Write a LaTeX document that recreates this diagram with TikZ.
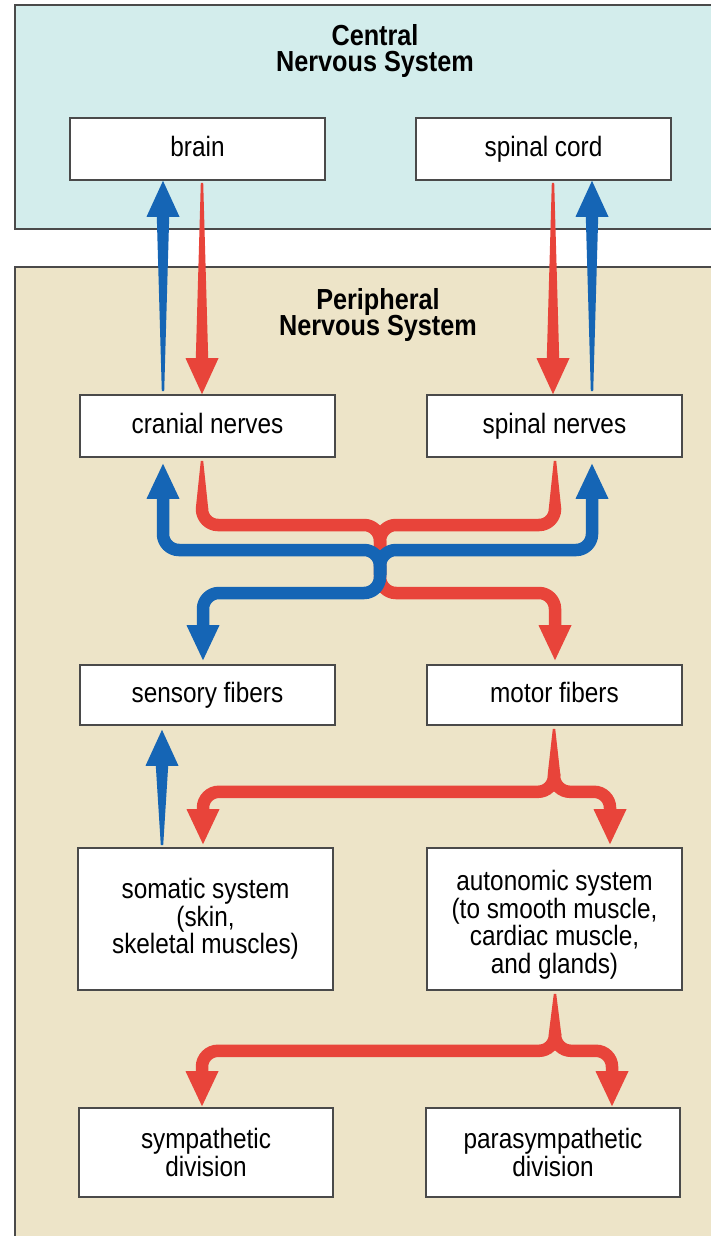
\documentclass[tikz,border=0pt]{standalone}
\usepackage{fontspec}
\setmainfont{Liberation Sans}[FakeStretch=0.87]
\usetikzlibrary{calc}
\definecolor{cnsbg}{HTML}{D3EDEC}
\definecolor{pnsbg}{HTML}{EDE4C8}
\definecolor{nred}{HTML}{E8443A}
\definecolor{nblue}{HTML}{1565B5}
\definecolor{edgec}{HTML}{4A4A4A}
% tapered straight arrow: colour, start, tip, yshift of head base from tip
\newcommand\taperarrow[4]{\fill[#1] ([xshift=-1.2pt]#2) -- ([xshift=1.2pt]#2) -- ([xshift=6.2pt,yshift=#4]#3) -- ([xshift=16.5pt,yshift=#4]#3) -- (#3) -- ([xshift=-16.5pt,yshift=#4]#3) -- ([xshift=-6.2pt,yshift=#4]#3) -- cycle;}
% tapered start of a thick stroke
\newcommand\taperline[3]{\fill[#1] ([xshift=-1.2pt]#2) -- ([xshift=1.2pt]#2) -- ([xshift=6.25pt]#3) -- ([xshift=-6.25pt]#3) -- cycle;}
% arrow head: colour, tip, yshift of base
\newcommand\headat[3]{\fill[#1] (#2) -- ([xshift=16.5pt,yshift=#3]#2) -- ([xshift=-16.5pt,yshift=#3]#2) -- cycle;}
\begin{document}
\begin{tikzpicture}[x=1pt,y=-1pt,
  panel/.style={draw=edgec,line width=1.6pt},
  nbox/.style={draw=edgec,line width=1.6pt,fill=white,minimum width=255pt,inner sep=0pt,align=center,font=\fontsize{28}{27.5}\selectfont},
  onebox/.style={nbox,text height=20pt,text depth=6pt},
  titletext/.style={align=center,inner sep=0pt,font=\bfseries\fontsize{29}{26.5}\selectfont},
  trunk/.style={line width=12.5pt,rounded corners=16pt},
]
\useasboundingbox (0,0) rectangle (711,1236);
\clip (0,0) rectangle (711,1236);
\fill[white] (0,0) rectangle (711,1236);
% panels
\fill[cnsbg] (15,5) rectangle (720,229);
\draw[panel] (720,5) -- (15,5) -- (15,229) -- (720,229);
\fill[pnsbg] (15,267) rectangle (720,1245);
\draw[panel] (720,267) -- (15,267) -- (15,1245);
\node[titletext] (cnstitle) at (375,51) {Central\\Nervous System};
\node[titletext] (pnstitle) at (378,315) {Peripheral\\Nervous System};
% boxes
\node[onebox,minimum height=62pt] (brain) at (197.5,149) {brain};
\node[onebox,minimum height=62pt] (spinalcord) at (543.5,149) {spinal cord};
\node[onebox,minimum height=62pt] (cranial) at (207.5,426) {cranial nerves};
\node[onebox,minimum height=62pt] (spinalnerves) at (554.5,426) {spinal nerves};
\node[onebox,minimum height=60pt] (sensory) at (207.5,695) {sensory fibers};
\node[onebox,minimum height=60pt] (motor) at (554.5,695) {motor fibers};
\node[nbox,minimum height=142pt] (somatic) at (205.5,919) {somatic system\\(skin,\\skeletal muscles)};
\node[nbox,minimum height=142pt] (autonomic) at (554.5,919) {\rule{0pt}{32pt}autonomic system\\(to smooth muscle,\\cardiac muscle,\\and glands)};
\node[nbox,minimum height=89pt,minimum width=254pt] (sympathetic) at (206,1152.5) {sympathetic\\division};
\node[nbox,minimum height=89pt,minimum width=254pt] (parasympathetic) at (553,1152.5) {parasympathetic\\division};
% CNS <-> cranial / spinal nerves
\path (cranial.north) ++(-44.5,-3) coordinate (bu0);
\coordinate (bu1) at (bu0 |- brain.south);
\path (brain.south) ++(4.5,2) coordinate (rd0);
\coordinate (rd1) at (rd0 |- cranial.north);
\path (spinalcord.south) ++(9.5,2) coordinate (rd2);
\coordinate (rd3) at (rd2 |- spinalnerves.north);
\path (spinalnerves.north) ++(37.5,-3) coordinate (bu2);
\coordinate (bu3) at (bu2 |- spinalcord.south);
\taperarrow{nblue}{bu0}{bu1}{-36pt}
\taperarrow{nred}{rd0}{rd1}{36pt}
\taperarrow{nred}{rd2}{rd3}{36pt}
\taperarrow{nblue}{bu2}{bu3}{-36pt}
% crossing between nerves and fibres
\coordinate (jr) at (380,525);
\coordinate (jr2) at (380,593);
\coordinate (jb) at (380,550);
\coordinate (jb2) at (380,593);
\path (cranial.south) ++(-5.5,3) coordinate (r1a);
\path (r1a) ++(0,48) coordinate (r1b);
\path (spinalnerves.south) ++(0.5,3) coordinate (r2a);
\path (r2a) ++(0,48) coordinate (r2b);
\path (motor.north) ++(0.5,-4) coordinate (mt);
\path (mt) ++(0,-35) coordinate (mtb);
\taperline{nred}{r1a}{r1b}
\taperline{nred}{r2a}{r2b}
\draw[nred,trunk] (r1b) -- (r1b |- jr) -- (jr) -- (jr2) -- (jr2 -| mt) -- (mtb);
\draw[nred,trunk] (r2b) -- (r2b |- jr) -- (jr) -- ++(0,35);
\headat{nred}{mt}{35pt}
\path (cranial.south -| bu0) ++(0,6) coordinate (bt1);
\path (bt1) ++(0,35) coordinate (bt1b);
\path (spinalnerves.south -| bu2) ++(0,6) coordinate (bt2);
\path (bt2) ++(0,35) coordinate (bt2b);
\path (sensory.north) ++(-4.5,-4) coordinate (st);
\path (st) ++(0,-35) coordinate (stb);
\draw[nblue,trunk] (380,575) -- (jb) -- (jb -| bt1) -- (bt1b);
\draw[nblue,trunk] (380,575) -- (jb) -- (jb -| bt2) -- (bt2b);
\draw[nblue,trunk] (jb) -- (jb2) -- (jb2 -| st) -- (stb);
\headat{nblue}{bt1}{-35pt}
\headat{nblue}{bt2}{-35pt}
\headat{nblue}{st}{35pt}
% motor fibres -> somatic / autonomic
\path (motor.south) ++(-0.5,3) coordinate (m0);
\path (m0) ++(0,45) coordinate (m1);
\path (m0) ++(0,63) coordinate (jm);
\path (somatic.north) ++(-2.5,-3) coordinate (sl);
\path (sl) ++(0,-35) coordinate (slb);
\path (autonomic.north) ++(55.5,-3) coordinate (sr);
\path (sr) ++(0,-35) coordinate (srb);
\taperline{nred}{m0}{m1}
\draw[nred,trunk] (m1) -- (jm) -- (jm -| sl) -- (slb);
\draw[nred,trunk] (m1) -- (jm) -- (jm -| sr) -- (srb);
\headat{nred}{sl}{35pt}
\headat{nred}{sr}{35pt}
% somatic -> sensory
\path (somatic.north) ++(-43.5,-2) coordinate (s0);
\path (sensory.south -| s0) ++(0,4) coordinate (s1);
\taperarrow{nblue}{s0}{s1}{-36pt}
% autonomic -> divisions
\path (autonomic.south) ++(0.5,3) coordinate (a0);
\path (a0) ++(0,40) coordinate (a1);
\path (a0) ++(0,57) coordinate (ja);
\path (sympathetic.north) ++(-4,-1) coordinate (ptl);
\path (ptl) ++(0,-35) coordinate (ptlb);
\path (parasympathetic.north) ++(59,-1) coordinate (ptr);
\path (ptr) ++(0,-35) coordinate (ptrb);
\taperline{nred}{a0}{a1}
\draw[nred,trunk] (a1) -- (ja) -- (ja -| ptl) -- (ptlb);
\draw[nred,trunk] (a1) -- (ja) -- (ja -| ptr) -- (ptrb);
\headat{nred}{ptl}{35pt}
\headat{nred}{ptr}{35pt}
\end{tikzpicture}
\end{document}
